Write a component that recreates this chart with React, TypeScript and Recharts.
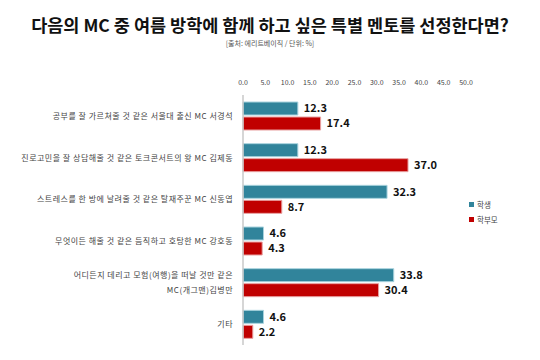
import { BarChart, Bar, XAxis, YAxis, LabelList } from "recharts";

const categories = [
  "공부를 잘 가르쳐줄 것 같은 서울대 출신 MC 서경석",
  "진로고민을 잘 상담해줄 것 같은 토크콘서트의 왕 MC 김제동",
  "스트레스를 한 방에 날려줄 것 같은 탈재주꾼 MC 신동엽",
  "무엇이든 해줄 것 같은 듬직하고 호탕한 MC 강호동",
  "어디든지 데리고 모험(여행)을 떠날 것만 같은\nMC(개그맨)김병만",
  "기타",
];
const students = [12.3, 12.3, 32.3, 4.6, 33.8, 4.6];
const parents = [17.4, 37.0, 8.7, 4.3, 30.4, 2.2];
const xTicks = [0, 5, 10, 15, 20, 25, 30, 35, 40, 45, 50];

const data = categories.map((name, i) => ({
  name,
  student: students[i],
  parent: parents[i],
}));

const FONT = "'Noto Sans CJK KR', 'Noto Sans', sans-serif";
const TEAL = "#31849b";
const RED = "#c00000";

function CategoryTick(props: any) {
  const { x, y, payload } = props;
  const lines = String(payload.value).split("\n");
  const lh = 15;
  const start = y - ((lines.length - 1) * lh) / 2;
  return (
    <g>
      {lines.map((l, i) => (
        <text
          key={i}
          x={x}
          y={start + i * lh}
          dy={3}
          textAnchor="end"
          fontSize={8}
          letterSpacing={0.5}
          fill="#444"
          fontFamily={FONT}
        >
          {l}
        </text>
      ))}
    </g>
  );
}

export default function App() {
  return (
    <div
      style={{
        position: "absolute",
        left: 0,
        top: 0,
        width: 540,
        height: 360,
        background: "#fff",
        fontFamily: FONT,
      }}
    >
      <div
        style={{
          position: "absolute",
          top: 16,
          left: 0,
          width: 540,
          textAlign: "center",
          fontSize: 17.5,
          fontWeight: 700,
          color: "#111",
          lineHeight: "18px",
        }}
      >
        다음의 MC 중 여름 방학에 함께 하고 싶은 특별 멘토를 선정한다면?
      </div>
      <div
        style={{
          position: "absolute",
          top: 38,
          left: 0,
          width: 540,
          textAlign: "center",
          fontSize: 7,
          color: "#555",
          lineHeight: "10px",
        }}
      >
        [출처: 에리트베이직 / 단위: %]
      </div>
      <BarChart
        width={540}
        height={360}
        data={data}
        layout="vertical"
        margin={{ top: 65, right: 74, bottom: 15, left: 0 }}
        barSize={13}
        barGap={2}
      >
        <XAxis
          type="number"
          orientation="top"
          domain={[0, 50]}
          ticks={xTicks}
          tickFormatter={(v: number) => v.toFixed(1)}
          axisLine={false}
          tickLine={false}
          tickSize={0}
          tickMargin={10}
          height={30}
          tick={{ fontSize: 7, fill: "#444", fontFamily: FONT }}
        />
        <YAxis
          type="category"
          dataKey="name"
          width={243}
          axisLine={{ stroke: "#c8c8c8", strokeWidth: 1.5 }}
          tickLine={false}
          tickSize={0}
          tickMargin={10}
          tick={<CategoryTick />}
          interval={0}
        />
        <Bar
          dataKey="student"
          fill={TEAL}
          stroke="#a9d3de"
          strokeWidth={1}
          isAnimationActive={false}
        >
          <LabelList
            dataKey="student"
            position="right"
            offset={6}
            formatter={(v: any) => Number(v).toFixed(1)}
            style={{ fontSize: 11, fontWeight: 700, fill: "#111", fontFamily: FONT }}
          />
        </Bar>
        <Bar
          dataKey="parent"
          fill={RED}
          stroke="#e8a0a0"
          strokeWidth={1}
          isAnimationActive={false}
        >
          <LabelList
            dataKey="parent"
            position="right"
            offset={6}
            formatter={(v: any) => Number(v).toFixed(1)}
            style={{ fontSize: 11, fontWeight: 700, fill: "#111", fontFamily: FONT }}
          />
        </Bar>
      </BarChart>
      <div
        style={{
          position: "absolute",
          left: 469,
          top: 197,
          fontSize: 7.5,
          color: "#444",
          lineHeight: "15px",
        }}
      >
        <div style={{ display: "flex", alignItems: "center" }}>
          <span style={{ width: 5, height: 5, background: TEAL, marginRight: 3, display: "inline-block" }} />
          학생
        </div>
        <div style={{ display: "flex", alignItems: "center" }}>
          <span style={{ width: 5, height: 5, background: RED, marginRight: 3, display: "inline-block" }} />
          학부모
        </div>
      </div>
    </div>
  );
}
